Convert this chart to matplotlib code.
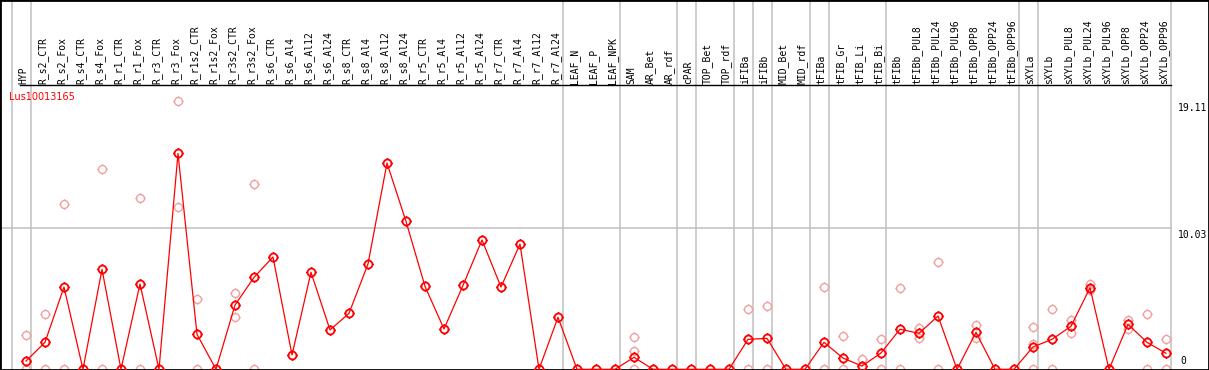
import matplotlib
matplotlib.use("Agg")
import matplotlib.pyplot as plt
import matplotlib.transforms as mtransforms
from matplotlib.path import Path
import numpy as np

# ---------------- data ----------------
gene = "Lus10013165"
samples = ["HYP", "R_s2_CTR", "R_s2_Fox", "R_s4_CTR", "R_s4_Fox", "R_r1_CTR", "R_r1_Fox",
           "R_r3_CTR", "R_r3_Fox", "R_r1s2_CTR", "R_r1s2_Fox", "R_r3s2_CTR", "R_r3s2_Fox",
           "R_s6_CTR", "R_s6_Al4", "R_s6_Al12", "R_s6_Al24", "R_s8_CTR", "R_s8_Al4",
           "R_s8_Al12", "R_s8_Al24", "R_r5_CTR", "R_r5_Al4", "R_r5_Al12", "R_r5_Al24",
           "R_r7_CTR", "R_r7_Al4", "R_r7_Al12", "R_r7_Al24", "LEAF_N", "LEAF_P", "LEAF_NPK",
           "SAM", "AR_Bet", "AR_rdf", "cPAR", "TOP_Bet", "TOP_rdf", "iFIBa", "iFIBb",
           "MID_Bet", "MID_rdf", "tFIBa", "tFIB_Gr", "tFIB_Li", "tFIB_Bi", "tFIBb",
           "tFIBb_PUL8", "tFIBb_PUL24", "tFIBb_PUL96", "tFIBb_OPP8", "tFIBb_OPP24",
           "tFIBb_OPP96", "sXYLa", "sXYLb", "sXYLb_PUL8", "sXYLb_PUL24", "sXYLb_PUL96",
           "sXYLb_OPP8", "sXYLb_OPP24", "sXYLb_OPP96"]

means = [0.59, 1.92, 5.85, 0, 7.11, 0, 6.07, 0, 15.36, 2.49, 0, 4.57, 6.54,
         7.99, 1.02, 6.90, 2.80, 3.98, 7.49, 14.67, 10.52, 5.90, 2.87, 5.97, 9.20,
         5.85, 8.91, 0, 3.70, 0, 0, 0, 0.85, 0, 0, 0, 0, 0, 2.13, 2.20,
         0, 0, 1.92, 0.80, 0.23, 1.16, 2.85, 2.56, 3.79, 0, 2.63, 0, 0,
         1.59, 2.13, 3.06, 5.80, 0, 3.20, 1.92, 1.14]

replicates = [[2.42, 0], [3.93, 0], [11.73, 0], [], [14.22, 0], [], [12.16, 0], [],
              [19.11, 11.57], [4.98, 0], [], [5.40, 3.70], [13.16, 0],
              [], [], [], [], [], [], [], [], [], [], [], [], [], [], [], [], [], [], [],
              [2.28, 1.30, 0], [], [], [], [], [], [4.27, 0], [4.48, 0], [], [],
              [5.83, 0], [2.35, 0], [0.73], [2.15, 0], [5.78, 0], [2.92, 2.25],
              [7.61, 0], [], [3.15, 2.20], [], [], [2.99, 1.80, 0], [4.29, 0],
              [3.51, 2.56], [6.05, 5.64], [], [3.51, 2.85], [3.91, 0], [2.15, 0]]

# group separators: vertical lines drawn after these sample counts
group_breaks = [0, 1, 29, 32, 35, 36, 38, 39, 40, 42, 43, 46, 53, 54, 61]
y_ticks = [19.11, 10.03]
y_grid = [10.03]

# ---------------- layout ----------------
W, H = 1209, 370
X0_PX, DX_PX = 7.0, 19.0          # pixel x of sample n is X0 + DX*n
Y0_PX, PX_PER_UNIT = 0.7, 14.058  # pixel from bottom of value v
LABEL_BASE_PX = 84                # px from top where labels sit

fig = plt.figure(figsize=(W / 100, H / 100), dpi=100)
ax = fig.add_axes([0, 0, 1, 1])
ax.set_xlim(-X0_PX / DX_PX, (W - X0_PX) / DX_PX)
ax.set_ylim(-Y0_PX / PX_PER_UNIT, (H - Y0_PX) / PX_PER_UNIT)
ax.set_xticks([])
ax.set_yticks([])
for s in ax.spines.values():
    s.set_color("black")
    s.set_linewidth(2.0)

x = np.arange(1, len(samples) + 1)
sep_off = 4.5 / DX_PX
right_edge = group_breaks[-1] + sep_off

# grid lines
for b in group_breaks:
    ax.axvline(b + sep_off, color="#c0c0c0", lw=1.1, zorder=1)
for g in y_grid:
    ax.plot([ax.get_xlim()[0], right_edge], [g, g], color="#c0c0c0", lw=1.1, zorder=1)

# black line separating label area
bt = mtransforms.blended_transform_factory(ax.transData, ax.transAxes)
ax.plot([(20 - X0_PX) / DX_PX, right_edge], [1 - 85 / H] * 2, color="black",
        lw=1.0, transform=bt, zorder=3)

# custom marker: circle with four small ticks
t = np.linspace(0, 2 * np.pi, 49)
verts = list(zip(np.cos(t), np.sin(t)))
codes = [Path.MOVETO] + [Path.LINETO] * (len(verts) - 1)
for dx, dy in [(1, 0), (-1, 0), (0, 1), (0, -1)]:
    verts += [(dx * 1.0, dy * 1.0), (dx * 1.3, dy * 1.3)]
    codes += [Path.MOVETO, Path.LINETO]
sun = Path(verts, codes)

# replicates
rx, ry = [], []
for xi, reps in zip(x, replicates):
    for r in reps:
        rx.append(xi)
        ry.append(r)
ax.plot(rx, ry, linestyle="none", marker=sun, markersize=7.4,
        markerfacecolor="none", markeredgecolor="#f0a0a0", markeredgewidth=1.0, zorder=2)

# mean line
ax.plot(x, means, color="#ff0000", lw=0.9, marker=sun, markersize=7.4,
        markerfacecolor="none", markeredgecolor="#ff0000", markeredgewidth=1.3, zorder=4)

# sample labels
for xi, lab in zip(x, samples):
    ax.text(xi - 2.5 / DX_PX, 1 - LABEL_BASE_PX / H, lab, rotation=90, ha="center",
            va="bottom", fontsize=7, family="DejaVu Sans Mono", transform=bt,
            color="black")

# gene name
ax.text((9 - X0_PX) / DX_PX, 1 - 97 / H, gene, color="#ff0000", fontsize=7,
        family="DejaVu Sans", ha="left", va="center", transform=bt)

# right value labels
for v in y_ticks:
    ax.annotate(f"{v:.2f}", xy=(right_edge, v), xytext=(5.5, -1.5),
                textcoords="offset points", ha="left", va="top", fontsize=7,
                family="DejaVu Sans Mono")
ax.annotate("0", xy=(right_edge, 0), xytext=(7, 2.5), textcoords="offset points",
            ha="left", va="bottom", fontsize=7, family="DejaVu Sans Mono")

fig.savefig("out.png", dpi=100)
